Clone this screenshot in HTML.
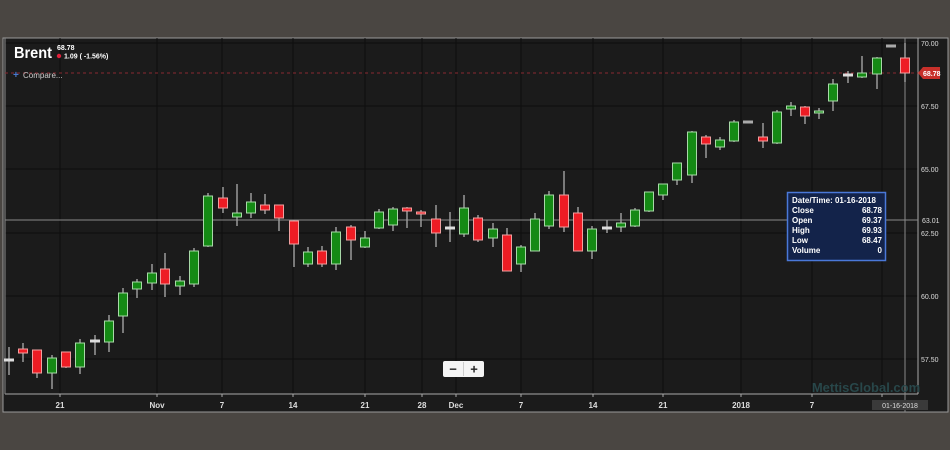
<!DOCTYPE html>
<html><head><meta charset="utf-8"><style>
html,body{margin:0;padding:0;width:950px;height:450px;overflow:hidden;background:#4a4642;font-family:"Liberation Sans",sans-serif;}
svg{position:absolute;left:0;top:0}
</style></head><body>
<svg id="s" width="950" height="450" xmlns="http://www.w3.org/2000/svg">
<rect x="3" y="38" width="945" height="374" fill="#1b1b1b" stroke="#9a9a9a" stroke-width="1"/>
<g id="grid" stroke="#0e0e0e" stroke-width="1"></g>
<line x1="918" y1="38" x2="918" y2="394" stroke="#aaa" stroke-width="1"/>
<line x1="5" y1="394" x2="918" y2="394" stroke="#aaa" stroke-width="1"/>
<line x1="5" y1="38" x2="5" y2="394" stroke="#888" stroke-width="1"/>
<line x1="5" y1="73" x2="918" y2="73" stroke="#8a2a30" stroke-width="1" stroke-dasharray="3,3"/>
<line x1="5" y1="220" x2="918" y2="220" stroke="#8a8a8a" stroke-width="1"/>
<line x1="905" y1="38" x2="905" y2="412" stroke="#8a8a8a" stroke-width="1"/>
<g id="c"></g>
<text x="14" y="58" fill="#fff" font-size="16" font-weight="bold" textLength="38" lengthAdjust="spacingAndGlyphs">Brent</text>
<text x="57" y="50" fill="#fff" font-size="7" font-weight="bold">68.78</text>
<circle cx="59" cy="56" r="2.2" fill="#e0203a"/>
<text x="64" y="58.5" fill="#fff" font-size="7" font-weight="bold">1.09 ( -1.56%)</text>
<text x="13" y="78" fill="#4a7ad0" font-size="10" font-weight="bold">+</text>
<text x="23" y="78" fill="#ccc" font-size="8">Compare...</text>
<g fill="#ddd" font-size="7">
<text x="921" y="46">70.00</text><text x="921" y="109">67.50</text><text x="921" y="172">65.00</text>
<text x="921" y="236">62.50</text><text x="921" y="299">60.00</text><text x="921" y="362">57.50</text>
</g>
<path d="M918,73 L923,67 L940,67 L940,79 L923,79 Z" fill="#c8302a"/>
<text x="923" y="76" fill="#fff" font-size="7" font-weight="bold">68.78</text>
<rect x="919" y="215" width="22" height="10" fill="#1b1b1b"/>
<text x="922" y="223" fill="#ddd" font-size="7">63.01</text>
<g id="xl" fill="#ddd" font-size="8" font-weight="bold" text-anchor="middle"></g>
<rect x="872" y="400" width="56" height="10" fill="#3a3a3a"/>
<text x="900" y="408" fill="#ddd" font-size="7" text-anchor="middle">01-16-2018</text>
<text x="866" y="392" fill="#28474a" font-size="13" font-weight="bold" text-anchor="middle">MettisGlobal.com</text>
<rect x="443" y="361" width="41" height="16" rx="2" fill="#f4f4f4"/>
<line x1="463.5" y1="362" x2="463.5" y2="376" stroke="#ccc"/>
<text x="453" y="373.5" fill="#222" font-size="13" font-weight="bold" text-anchor="middle">−</text>
<text x="474" y="373.5" fill="#222" font-size="13" font-weight="bold" text-anchor="middle">+</text>
<rect x="787.5" y="192.5" width="98" height="68" fill="#13234a" stroke="#4a78d8" stroke-width="1.5"/>
<g fill="#fff" font-size="8" font-weight="bold">
<text x="792" y="203">Date/Time: 01-16-2018</text>
<text x="792" y="213">Close</text><text x="882" y="213" text-anchor="end">68.78</text>
<text x="792" y="223">Open</text><text x="882" y="223" text-anchor="end">69.37</text>
<text x="792" y="233">High</text><text x="882" y="233" text-anchor="end">69.93</text>
<text x="792" y="243">Low</text><text x="882" y="243" text-anchor="end">68.47</text>
<text x="792" y="253">Volume</text><text x="882" y="253" text-anchor="end">0</text>
</g>
</svg>
<script>
var NS="http://www.w3.org/2000/svg";
function el(t,a,p){var e=document.createElementNS(NS,t);for(var k in a)e.setAttribute(k,a[k]);p.appendChild(e);return e;}
var g=document.getElementById("grid");
[43,106,169,233,296,359].forEach(function(y){el("line",{x1:5,y1:y,x2:918,y2:y},g);});
var xs=[[60,"21"],[157,"Nov"],[222,"7"],[293,"14"],[365,"21"],[422,"28"],[456,"Dec"],[521,"7"],[593,"14"],[663,"21"],[741,"2018"],[812,"7"],[882,"14"]];
var xl=document.getElementById("xl");
xs.forEach(function(a){el("line",{x1:a[0],y1:38,x2:a[0],y2:394},g);
 var t=el("text",{x:a[0],y:408},xl);t.textContent=a[1];
 el("line",{x1:a[0],y1:394,x2:a[0],y2:397,stroke:"#aaa"},document.getElementById("s"));});
var D=[
[9,347,375,359,361,'w'],[23,343,362,349,353,'r'],[37,350,378,350,373,'r'],[52,355,389,358,373,'g'],[66,352,368,352,367,'r'],
[80,339,374,343,367,'g'],[95,335,355,340,342,'w'],[109,315,352,321,342,'g'],[123,288,333,293,316,'g'],[137,279,298,282,289,'g'],
[152,264,290,273,283,'g'],[165,253,297,269,284,'r'],[180,276,295,281,286,'g'],[194,248,287,251,284,'g'],[208,193,247,196,246,'g'],
[223,187,213,198,208,'r'],[237,184,226,213,217,'g'],[251,193,218,202,213,'g'],[265,194,214,205,210,'r'],[279,205,231,205,218,'r'],
[294,220,267,221,244,'r'],[308,247,267,252,264,'g'],[322,246,267,251,264,'r'],[336,227,270,232,264,'g'],[351,225,260,227,240,'r'],
[365,231,248,238,247,'g'],[379,209,229,212,228,'g'],[393,207,231,209,225,'g'],[407,207,228,208,211,'r'],[421,210,227,212,214,'r'],
[436,205,247,219,233,'r'],[450,212,242,227,229,'w'],[464,195,237,208,234,'g'],[478,215,242,218,240,'r'],[493,223,247,229,238,'g'],
[507,228,271,235,271,'r'],[521,245,272,247,264,'g'],[535,213,251,219,251,'g'],[549,191,229,195,226,'g'],[564,171,232,195,227,'r'],
[578,207,251,213,251,'r'],[592,226,259,229,251,'g'],[607,220,233,227,229,'w'],[621,213,232,223,227,'g'],[635,208,227,210,226,'g'],
[649,192,212,192,211,'g'],[663,184,200,184,195,'g'],[677,163,185,163,180,'g'],[692,131,183,132,175,'g'],[706,135,158,137,144,'r'],
[720,137,150,140,147,'g'],[734,120,142,122,141,'g'],[748,122,122,121,123,'n'],[763,123,148,137,141,'r'],[777,110,144,112,143,'g'],
[791,102,116,106,109,'g'],[805,106,124,107,116,'r'],[819,108,119,111,113,'g'],[833,79,111,84,101,'g'],[848,71,83,74,76,'w'],
[862,56,78,73,77,'g'],[877,57,89,58,74,'g'],[891,46,46,45,47,'n'],[905,43,82,58,73,'r']];
var c=document.getElementById("c");
D.forEach(function(d){
 var x=d[0],col=d[5];
 if(col!='n') el("line",{x1:x,y1:d[1],x2:x,y2:d[2],stroke:"#9a9a9a","stroke-width":1.5},c);
 var f={g:"#148a14",r:"#ee1c24",w:"#ddd",n:"#aaa"}[col];
 var s={g:"#a8d8a8",r:"#f0a0a0",w:"#ddd",n:"#aaa"}[col];
 var h=Math.max(2,d[4]-d[3]);
 el("rect",{x:x-4.5,y:d[3],width:9,height:h,fill:f,stroke:s,"stroke-width":1},c);
});
</script>
</body></html>
